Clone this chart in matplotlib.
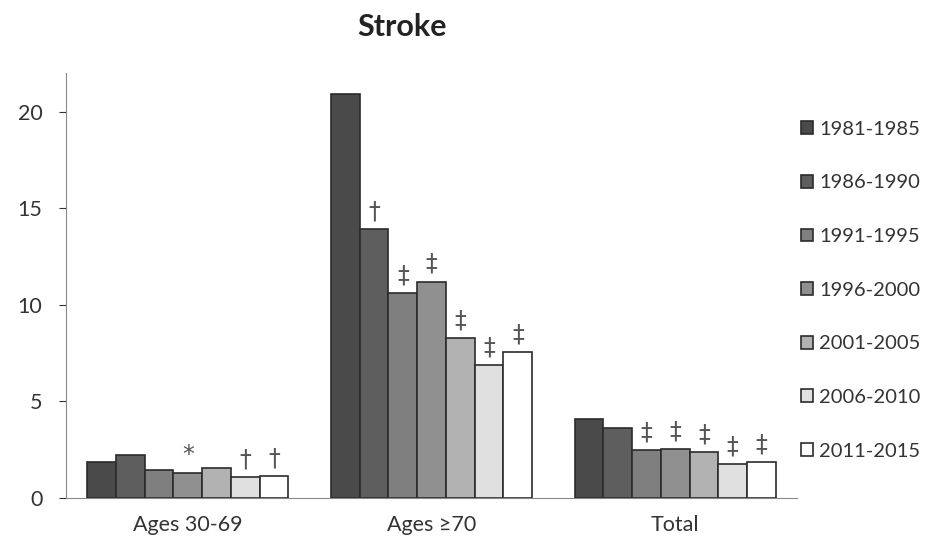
import numpy as np
import matplotlib
matplotlib.use("Agg")
import matplotlib.pyplot as plt

plt.rcParams["font.family"] = ["Lato", "DejaVu Sans"]

groups = ["Ages 30-69", "Ages \u226570", "Total"]
periods = ["1981-1985", "1986-1990", "1991-1995", "1996-2000",
           "2001-2005", "2006-2010", "2011-2015"]

# one list per period: values for the three groups
rates = [
    [1.86, 20.9, 4.08],
    [2.22, 13.9, 3.62],
    [1.45, 10.6, 2.48],
    [1.29, 11.2, 2.53],
    [1.55, 8.27, 2.38],
    [1.08, 6.87, 1.76],
    [1.14, 7.55, 1.86],
]

# significance marks, same layout as rates
marks = [
    ["", "", ""],
    ["", "\u2020", ""],
    ["", "\u2021", "\u2021"],
    ["*", "\u2021", "\u2021"],
    ["", "\u2021", "\u2021"],
    ["\u2020", "\u2021", "\u2021"],
    ["\u2020", "\u2021", "\u2021"],
]

colors = ["#4a4a4a", "#5e5e5e", "#7f7f7f", "#909090",
          "#b2b2b2", "#e0e0e0", "#ffffff"]

yticks = [0, 5, 10, 15, 20]


def main():
    fig = plt.figure(figsize=(9.3, 5.4), dpi=100)
    ax = fig.add_axes([0.071, 0.078, 0.786, 0.787])

    x = np.arange(len(groups))
    width = 0.118
    n = len(periods)

    for i, (period, vals) in enumerate(zip(periods, rates)):
        pos = x + (i - (n - 1) / 2) * width
        ax.bar(pos, vals, width, color=colors[i], edgecolor="#2b2b2b",
               linewidth=1.2, label=period)
        for px, v, m in zip(pos, vals, marks[i]):
            if m:
                ax.annotate(m, (px, v), xytext=(0, 4), textcoords="offset points",
                            ha="center", va="bottom", fontsize=17,
                            family="DejaVu Sans", color="#555555")

    ax.set_xlim(-0.5, 2.5)
    ax.set_ylim(0, 22)
    ax.set_yticks(yticks)
    ax.set_xticks(x)
    ax.set_xticklabels(groups)
    ax.tick_params(axis="x", length=0, labelsize=15.5, pad=12, colors="#333333")
    ax.tick_params(axis="y", length=5, labelsize=15.5, pad=12, colors="#333333")
    for s in ["top", "right"]:
        ax.spines[s].set_visible(False)
    ax.spines["left"].set_color("#888888")
    ax.spines["bottom"].set_color("#888888")

    fig.text(0.432, 0.95, "Stroke", ha="center", va="center",
             fontsize=22, fontweight="bold", color="#222222")

    leg = ax.legend(loc="upper left", bbox_to_anchor=(0.842, 0.81),
                    bbox_transform=fig.transFigure, frameon=False,
                    fontsize=14.5, labelspacing=1.82, handlelength=0.6,
                    handleheight=0.6, handletextpad=0.3)
    for t in leg.get_texts():
        t.set_color("#333333")

    fig.savefig("out.png", dpi=100)


if __name__ == "__main__":
    main()
